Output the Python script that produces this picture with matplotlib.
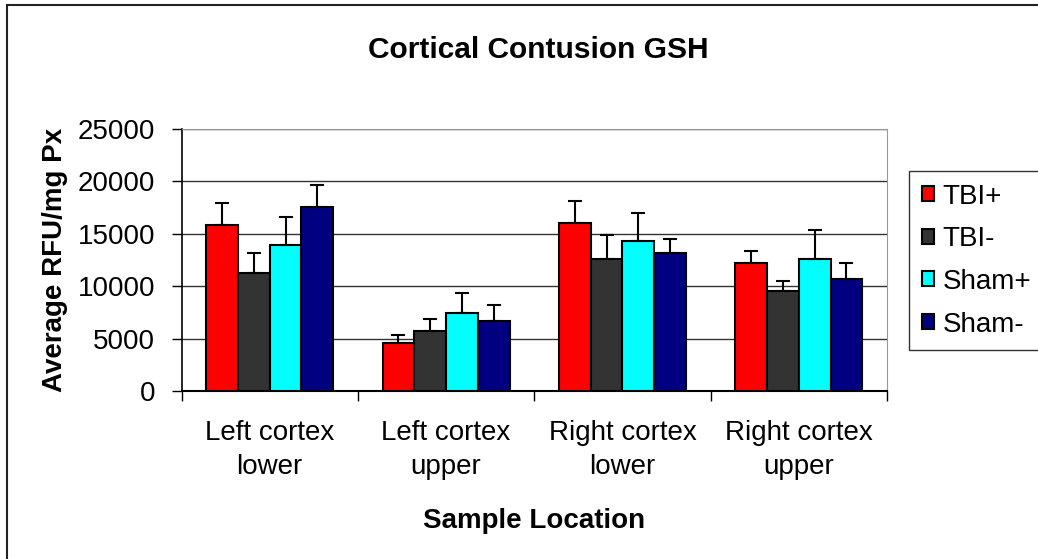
import numpy as np
import matplotlib
matplotlib.use("Agg")
import matplotlib.pyplot as plt
from matplotlib.patches import Rectangle

plt.rcParams['font.family'] = ['Liberation Sans', 'DejaVu Sans']

# data
locations = ["Left cortex\nlower", "Left cortex\nupper", "Right cortex\nlower", "Right cortex\nupper"]
groups = ["TBI+", "TBI-", "Sham+", "Sham-"]
colors = ["#FF0000", "#333333", "#00FFFF", "#000080"]

tbi_pos = [15830, 4590, 15990, 12200]
tbi_neg = [11240, 5730, 12610, 9550]
sham_pos = [13920, 7420, 14300, 12610]
sham_neg = [17550, 6660, 13180, 10670]

tbi_pos_err = [2130, 730, 2160, 1180]
tbi_neg_err = [1910, 1120, 2290, 930]
sham_pos_err = [2670, 1910, 2700, 2710]
sham_neg_err = [2130, 1560, 1340, 1530]

means = [tbi_pos, tbi_neg, sham_pos, sham_neg]
errs = [tbi_pos_err, tbi_neg_err, sham_pos_err, sham_neg_err]

fig = plt.figure(figsize=(10.38, 5.59), dpi=100)
ax = fig.add_axes([0.1749, 0.3005, 0.6796, 0.4687])

# outer chart border
fig.patches.append(Rectangle((7/1038, -0.1), 1.2, 1 - 5/559 + 0.1, transform=fig.transFigure,
                             fill=False, edgecolor="#222222", linewidth=1.5))

x = np.arange(len(locations))
w = 0.18
for i, (m, e) in enumerate(zip(means, errs)):
    pos = x + (i - 1.5) * w
    ax.bar(pos, m, width=w, color=colors[i], edgecolor="black", linewidth=1.5,
           label=groups[i], zorder=3)
    ax.errorbar(pos, m, yerr=[np.zeros(len(e)), e], fmt="none", ecolor="black",
                elinewidth=1.5, capsize=5, capthick=1.5, zorder=4)

ax.set_xlim(-0.5, 3.5)
ax.set_ylim(0, 25000)
ax.set_yticks(range(0, 25001, 5000))
ax.tick_params(axis="y", direction="out", length=7, width=1, pad=12, labelsize=20)
ax.set_xticks(np.arange(-0.5, 4, 1))
ax.set_xticklabels([])
ax.tick_params(axis="x", direction="out", length=7, width=1)
ax.set_xticks(x, minor=True)
ax.set_xticklabels(locations, minor=True, fontsize=20, linespacing=1.4)
ax.tick_params(axis="x", which="minor", length=0, pad=21)

ax.yaxis.grid(True, color="#333333", linewidth=1, zorder=0)
ax.spines["top"].set_color("#999999")
ax.spines["right"].set_color("#999999")
ax.spines["left"].set_linewidth(1.2)
ax.spines["bottom"].set_linewidth(1.5)

ax.set_ylabel("Average RFU/mg Px", fontsize=20, fontweight="bold", labelpad=7)
ax.set_xlabel("Sample Location", fontsize=20, fontweight="bold", labelpad=20)
fig.text(0.519, 1 - 50/559, "Cortical Contusion GSH", ha="center", va="center",
         fontsize=21.5, fontweight="bold")

leg = fig.legend(loc="upper left", bbox_to_anchor=(909/1038, 1 - 171/559), fontsize=20,
                 frameon=True, fancybox=False, edgecolor="black", handlelength=0.45,
                 handleheight=0.45, handletextpad=0.3, labelspacing=0.6,
                 borderpad=0.45, borderaxespad=0)
leg.get_frame().set_linewidth(1)

fig.savefig("out.png", dpi=100)
